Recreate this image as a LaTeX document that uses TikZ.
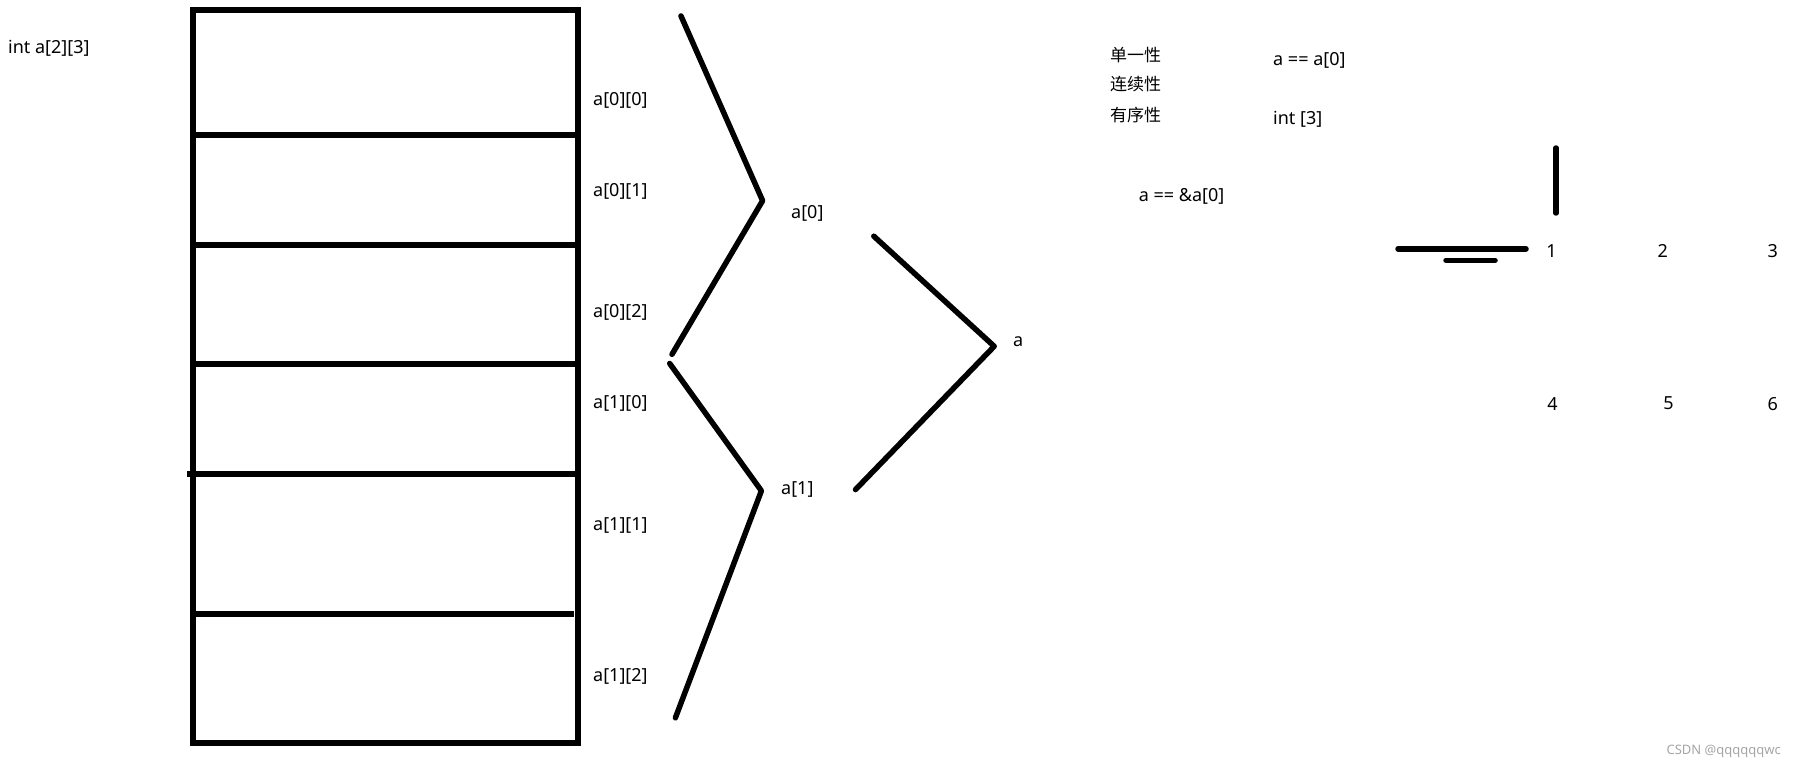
\documentclass[tikz,border=0pt]{standalone}
\usepackage{fontspec}
\setmainfont{Noto Sans}
\newfontfamily\cjk{Noto Sans CJK SC}
\begin{document}
\begin{tikzpicture}[x=1pt,y=-1pt,
  lbl/.style={anchor=west,inner sep=0pt,font=\fontsize{18}{21}\selectfont},
  num/.style={anchor=center,inner sep=0pt,font=\fontsize{18}{21}\selectfont},
  zh/.style={anchor=west,inner sep=0pt,font=\cjk\fontsize{17}{20}\selectfont},
  stroke/.style={line width=5.5pt,line cap=round,line join=round},
  boxline/.style={line width=6pt},
  wmark/.style={gray!70,anchor=east,inner sep=0pt,font=\fontsize{13}{15}\selectfont}]
\fill[white] (0,0) rectangle (1798,767);
\useasboundingbox (0,0) rectangle (1798,767);

% memory block
\coordinate (tl) at (192.6,10.3);
\coordinate (br) at (578,743);
\draw[boxline] (tl) rectangle (br);
\foreach \yy/\xa/\xb in {135.3/192.6/578, 245.4/192.6/578, 363.5/192.6/578, 473.6/187/578, 613.5/192.6/574}{
  \draw[boxline] (\xa,\yy) -- (\xb,\yy);
}

\node[lbl] (decl) at (8,48) {int a[2][3]};
\node[lbl] (e00) at (593,100) {a[0][0]};
\node[lbl] (e01) at (593,191.5) {a[0][1]};
\node[lbl] (e02) at (593,312) {a[0][2]};
\node[lbl] (e10) at (593,403.6) {a[1][0]};
\node[lbl] (e11) at (593,525) {a[1][1]};
\node[lbl] (e12) at (593,676.5) {a[1][2]};

% first brace pair
\coordinate (z1) at (681,16);
\coordinate (z2) at (762.6,200.7);
\coordinate (z3) at (672,354.3);
\coordinate (z4) at (669.7,363.5);
\coordinate (z5) at (761.4,490.8);
\coordinate (z6) at (675.4,717.8);
\draw[stroke] (z1) -- (z2) -- (z3);
\draw[stroke] (z4) -- (z5) -- (z6);
\node[lbl] (r0) at (791,213) {a[0]};
\node[lbl] (r1) at (781,489.6) {a[1]};

% second brace
\coordinate (c1) at (873.8,236.2);
\coordinate (c2) at (994.2,346.3);
\coordinate (c3) at (855.5,489.6);
\draw[stroke] (c1) -- (c2) -- (c3);
\node[lbl] (aa) at (1013,342) {a};

% notes
\node[zh] (p1) at (1110,55) {单一性};
\node[zh] (p2) at (1110,84) {连续性};
\node[zh] (p3) at (1110,115) {有序性};
\node[lbl] (q1) at (1273,60) {a == a[0]};
\node[lbl] (q2) at (1273,119.3) {int [3]};
\node[lbl] (q3) at (1138.6,196) {a == \&a[0]};

% marks
\coordinate (v1) at (1556,148);
\coordinate (v2) at (1556,213);
\draw[stroke] (v1) -- (v2);
\coordinate (h1) at (1398,248.8);
\coordinate (h2) at (1526,248.8);
\draw[stroke] (h1) -- (h2);
\coordinate (s1) at (1446,260.3);
\coordinate (s2) at (1495,260.3);
\draw[stroke] (s1) -- (s2);

\node[num] (n1) at (1551.5,251) {1};
\node[num] (n2) at (1662.7,251) {2};
\node[num] (n3) at (1772.8,251) {3};
\node[num] (n4) at (1552.6,403.6) {4};
\node[num] (n5) at (1668.5,403.6) {5};
\node[num] (n6) at (1772.8,403.6) {6};

\node[wmark] (wm) at (1781,751) {CSDN @qqqqqqwc};
\end{tikzpicture}
\end{document}
